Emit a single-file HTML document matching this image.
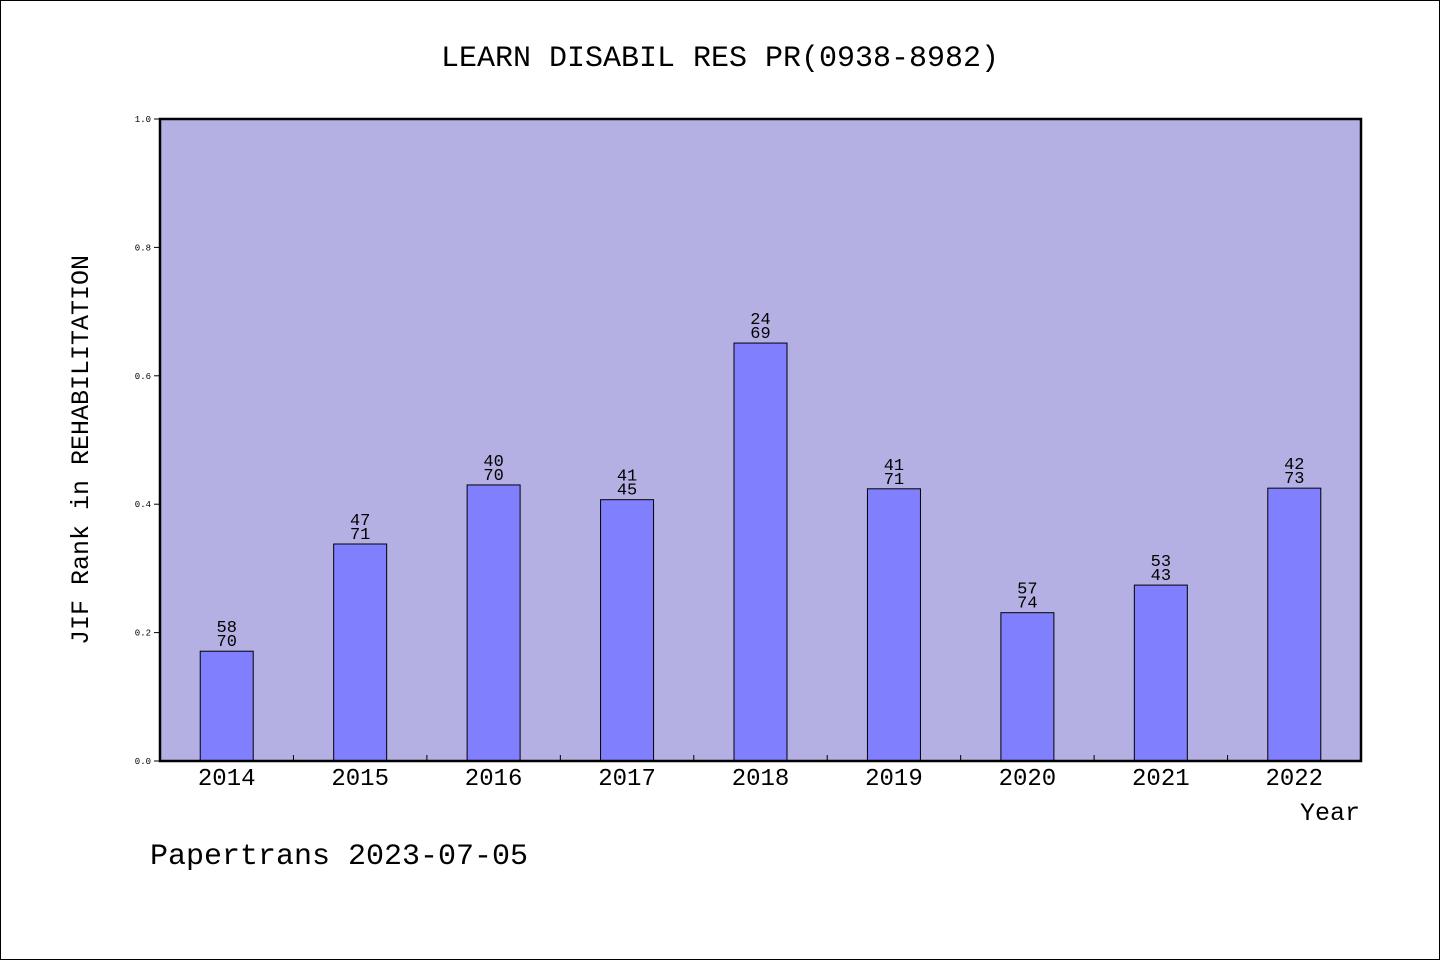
<!DOCTYPE html>
<html><head><meta charset="utf-8"><style>
html,body{margin:0;padding:0;background:#fff}
svg{display:block}
text{font-family:"Liberation Mono","WenQuanYi Zen Hei",monospace;fill:#000}
</style></head><body>
<svg id="chart" width="1440" height="960" viewBox="0 0 1440 960">
<rect x="0.5" y="0.5" width="1439" height="959" fill="#fff" stroke="#000"/>
<text x="720" y="66" font-size="30" text-anchor="middle">LEARN DISABIL RES PR(0938-8982)</text>
<rect x="160" y="119" width="1201" height="642" fill="#b5b0e3"/>
<g id="bars"></g>
<g id="yticks"></g>
<g id="xticks"></g>
<rect x="160" y="119" width="1201" height="642" fill="none" stroke="#000" stroke-width="2.5"/>
<text transform="translate(88,450) rotate(-90)" font-size="25" text-anchor="middle">JIF Rank in REHABILITATION</text>
<text x="1360" y="820" font-size="25" text-anchor="end">Year</text>
<text x="150" y="864" font-size="30">Papertrans 2023-07-05</text>
</svg>
<script>
const years=["2014","2015","2016","2017","2018","2019","2020","2021","2022"];
const values=[0.171,0.338,0.430,0.407,0.651,0.424,0.231,0.274,0.425];
const ranks=["58","47","40","41","24","41","57","53","42"];
const totals=["70","71","70","45","69","71","74","43","73"];
const yTicks=["0.0","0.2","0.4","0.6","0.8","1.0"];
const NS="http://www.w3.org/2000/svg";
const x0=160,x1=1361,y0=761,y1=119;
const band=(x1-x0)/years.length;
const xC=i=>x0+band*(i+0.5);
const yS=v=>y0-(y0-y1)*v;
function mk(t,a){const e=document.createElementNS(NS,t);for(const k in a)e.setAttribute(k,a[k]);return e;}
const bars=document.getElementById('bars');
years.forEach((yr,i)=>{
  const top=yS(values[i]);
  const r=mk('rect',{x:xC(i)-26.5,y:top,width:53,height:y0-top,fill:'#8080ff',stroke:'#000','stroke-width':1});
  
  
  bars.appendChild(r);
  const t1=mk('text',{x:xC(i),y:top-19,'font-size':17,'text-anchor':'middle'});
  t1.textContent=ranks[i];
  
  
  bars.appendChild(t1);
  const t2=mk('text',{x:xC(i),y:top-5,'font-size':17,'text-anchor':'middle'});
  t2.textContent=totals[i];
  
  
  bars.appendChild(t2);
});
const yt=document.getElementById('yticks');
yTicks.forEach(s=>{
  const y=yS(parseFloat(s));
  const l=mk('line',{x1:154,x2:160,y1:y,y2:y,stroke:'#000','stroke-width':1});
  
  
  yt.appendChild(l);
  const t=mk('text',{x:151,y:y+3,'font-size':9,'text-anchor':'end'});
  t.textContent=s;
  
  
  yt.appendChild(t);
});
const xt=document.getElementById('xticks');
years.forEach((yr,i)=>{
  if(i>0){
    const x=x0+band*i;
    const l=mk('line',{x1:x,x2:x,y1:755,y2:761,stroke:'#000','stroke-width':1});
    
    
    xt.appendChild(l);
  }
  const t=mk('text',{x:xC(i),y:785,'font-size':24,'text-anchor':'middle'});
  t.textContent=yr;
  
  
  xt.appendChild(t);
});
</script>
</body></html>
